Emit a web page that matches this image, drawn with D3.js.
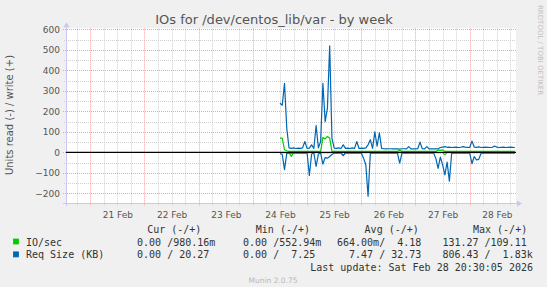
<!DOCTYPE html>
<html lang="en">
<head>
<meta charset="utf-8">
<title>IOs for /dev/centos_lib/var - by week</title>
<script src="https://cdn.jsdelivr.net/npm/d3@7"></script>
<style>
  html, body { margin: 0; padding: 0; background: #f0f0f0; }
  svg { display: block; }
  .mono { font-family: "DejaVu Sans Mono", monospace; font-size: 10px; fill: #333; white-space: pre; }
  .sans { font-family: "DejaVu Sans", sans-serif; }
</style>
</head>
<body>
<svg id="chart" width="547" height="287"></svg>
<script>
// hourly samples starting 24 Feb 12:00
var ioRead = [
  -1, -1, -1, -1, -1, -19, -1, -1, -1, -1,
  -1, -1, -1, -1, -1, -1, -1, -1, -1, -1,
  -1, -1, -1, -1, -1, -1, -1, -1, -15, -1,
  -1, -1, -1, -1, -1, -1, -1, -1, -1, -1,
  -1, -1, -1, -1, -1, -1, -1, -1, -1, -1,
  -1, -1, -1, -1, -1, -1, -1, -1, -1, -1,
  -1, -1, -1, -1, -1, -1, -1, -1, -1, -1,
  -1, -1, -1, -11, -1, -1, -1, -1, -1, -1,
  -1, -1, -1, -1, -1, -1, -1, -1, -1, -1,
  -1, -1, -1, -1, -1, -1, -1, -1, -1, -1,
  -1, -1, -1, -1, -1
];
var ioWrite = [
  70, 70, 13, 8, 5, 5, 5, 5, 5, 5,
  5, 5, 5, 5, 5, 5, 5, 5, 5, 73,
  66, 78, 70, 5, 5, 5, 5, 5, 5, 5,
  5, 5, 5, 5, 5, 5, 5, 5, 5, 5,
  5, 5, 5, 5, 5, 5, 5, 5, 5, 5,
  5, 5, 5, 10, 5, 5, 5, 5, 5, 5,
  5, 5, 5, 5, 5, 5, 5, 5, 5, 5,
  12, 10, 12, 5, 5, 5, 5, 5, 5, 5,
  5, 5, 5, 5, 5, 5, 5, 5, 5, 5,
  5, 5, 5, 5, 5, 5, 5, 5, 5, 5,
  5, 5, 5, 5, 5
];
var reqRead = [
  -5, -10, -84, -5, -3, -3, -3, -3, -3, -3,
  -3, -3, -3, -112, -8, -3, -68, -8, -3, -57,
  -25, -28, -20, -10, -3, -3, -3, -3, -15, -3,
  -3, -3, -3, -3, -3, -3, -3, -28, -60, -214,
  -5, -3, -3, -3, -3, -3, -3, -3, -3, -3,
  -3, -3, -3, -52, -3, -3, -3, -3, -3, -3,
  -3, -3, -3, -3, -3, -3, -3, -3, -3, -29,
  -78, -23, -60, -110, -47, -140, -5, -3, -3, -3,
  -3, -3, -3, -3, -3, -55, -20, -36, -34, -5,
  -3, -3, -3, -3, -3, -3, -3, -3, -3, -3,
  -3, -3, -3, -3, -3
];
var reqWrite = [
  240, 230, 337, 118, 22, 20, 22, 19, 21, 20,
  22, 53, 20, 21, 37, 20, 131, 22, 53, 337,
  150, 216, 520, 70, 21, 20, 22, 19, 37, 20,
  21, 19, 22, 20, 53, 19, 21, 20, 22, 37,
  62, 20, 100, 30, 95, 20, 18, 17, 18, 18,
  17, 18, 17, 16, 18, 18, 17, 28, 17, 18,
  17, 18, 50, 18, 17, 28, 17, 18, 17, 17,
  18, 24, 26, 28, 25, 26, 24, 25, 26, 24,
  25, 28, 26, 25, 24, 55, 26, 25, 27, 24,
  25, 26, 25, 24, 25, 31, 26, 24, 25, 26,
  24, 25, 26, 25, 24
];

var yTicks = [-200, -100, 0, 100, 200, 300, 400, 500, 600];
var dayTicks = ["21 Feb", "22 Feb", "23 Feb", "24 Feb", "25 Feb", "26 Feb", "27 Feb", "28 Feb"];
var legendNames = ["IO/sec", "Req Size (KB)"];
var legendColors = ["#00cc00", "#0066b3"];
var statHeads = ["Cur (-/+)", "Min (-/+)", "Avg (-/+)", "Max (-/+)"];
var statRows = [
  ["  0.00 /980.16m", "  0.00 /552.94m", "664.00m/  4.18", "131.27 /109.11"],
  ["  0.00 / 20.27", "  0.00 /  7.25", "  7.47 / 32.73", "806.43 /  1.83k"]
];
var lastUpdate = "Last update: Sat Feb 28 20:30:05 2026";

(function() {
var svg = d3.select("#chart");
var pL = 66, pR = 516, pT = 28.3, pB = 203.3;

var t0 = new Date(2026, 1, 20, 13, 15), t1 = new Date(2026, 1, 28, 20, 30);
var x = d3.scaleTime().domain([t0, t1]).range([pL, pR]);
var y = d3.scaleLinear().domain([-248, 605]).range([pB, pT]);

var start = new Date(2026, 1, 24, 12, 0);
var times = ioRead.map(function(d, i) { return d3.timeHour.offset(start, i); });

// plot area
svg.append("rect").attr("x", pL).attr("y", pT)
  .attr("width", pR - pL).attr("height", pB - pT).attr("fill", "#fff");

var g = svg.append("g");
var px = function(v) { return Math.round(v) + 0.5; };

// minor grid
var minorX = d3.timeHour.every(6).range(t0, t1).filter(function(d) { return d.getHours() != 0; });
g.selectAll(".vmin").data(minorX).enter().append("line")
  .attr("x1", function(d) { return px(x(d)); }).attr("x2", function(d) { return px(x(d)); })
  .attr("y1", pT).attr("y2", pB + 2)
  .attr("stroke", "#cfcfcf").attr("stroke-dasharray", "1,1");
var minorY = d3.range(-150, 651, 100);
g.selectAll(".hmin").data(minorY.filter(function(v) { return y(v) > pT; })).enter().append("line")
  .attr("x1", pL - 2).attr("x2", pR)
  .attr("y1", function(d) { return px(y(d)); }).attr("y2", function(d) { return px(y(d)); })
  .attr("stroke", "#cfcfcf").attr("stroke-dasharray", "1,1");

// major grid
var majorX = d3.timeDay.range(t0, t1);
g.selectAll(".vmaj").data(majorX).enter().append("line")
  .attr("x1", function(d) { return px(x(d)); }).attr("x2", function(d) { return px(x(d)); })
  .attr("y1", pT).attr("y2", pB + 3)
  .attr("stroke", "#f2a4a4").attr("stroke-dasharray", "1,1");
g.selectAll(".hmaj").data(yTicks).enter().append("line")
  .attr("x1", pL - 3).attr("x2", pR)
  .attr("y1", function(d) { return px(y(d)); }).attr("y2", function(d) { return px(y(d)); })
  .attr("stroke", "#f2a4a4").attr("stroke-dasharray", "1,1");

// axes lines with arrows
svg.append("line").attr("x1", pL - 3).attr("x2", pR + 2).attr("y1", px(pB)).attr("y2", px(pB))
  .attr("stroke", "#c8c8f0");
svg.append("line").attr("x1", px(pL)).attr("x2", px(pL)).attr("y1", pB + 3).attr("y2", pT - 3)
  .attr("stroke", "#c8c8f0");
svg.append("path").attr("d", "M" + (pR + 1) + "," + (px(pB) - 3) + "L" + (pR + 6) + "," + px(pB) + "L" + (pR + 1) + "," + (px(pB) + 3) + "Z")
  .attr("fill", "#c8c8f0");
svg.append("path").attr("d", "M" + (px(pL) - 3) + "," + (pT - 1) + "L" + px(pL) + "," + (pT - 6) + "L" + (px(pL) + 3) + "," + (pT - 1) + "Z")
  .attr("fill", "#c8c8f0");

// y axis labels
var yAxis = d3.axisLeft(y).tickValues(yTicks).tickSize(0).tickPadding(6).tickFormat(d3.format("d"));
var ya = svg.append("g").attr("transform", "translate(" + pL + ",0)").call(yAxis);
ya.select(".domain").remove();
ya.selectAll("text").attr("class", "sans").attr("font-size", 9).attr("fill", "#555");

// x axis labels at noon
var noons = dayTicks.map(function(d, i) { return new Date(2026, 1, 21 + i, 12, 0); });
var xAxis = d3.axisBottom(x).tickValues(noons).tickSize(0).tickPadding(8)
  .tickFormat(function(d, i) { return dayTicks[i]; });
var xa = svg.append("g").attr("transform", "translate(0," + pB + ")").call(xAxis);
xa.select(".domain").remove();
xa.selectAll("text").attr("class", "sans").attr("font-size", 9).attr("fill", "#555");

// series
var line = function(vals) {
  return d3.line().x(function(d, i) { return x(times[i]); }).y(function(d) { return y(d); })(vals);
};
[[ioRead, legendColors[0]], [ioWrite, legendColors[0]], [reqRead, legendColors[1]], [reqWrite, legendColors[1]]]
  .forEach(function(s) {
    svg.append("path").attr("d", line(s[0])).attr("fill", "none")
      .attr("stroke", s[1]).attr("stroke-width", 1.2).attr("stroke-linejoin", "round");
  });

// zero rule
svg.append("line").attr("x1", pL).attr("x2", pR).attr("y1", y(0)).attr("y2", y(0))
  .attr("stroke", "#000").attr("stroke-width", 1.2);

// title and labels
svg.append("text").attr("class", "sans").attr("x", 274).attr("y", 24).attr("text-anchor", "middle")
  .attr("font-size", 13).attr("fill", "#555").text("IOs for /dev/centos_lib/var - by week");
svg.append("text").attr("class", "sans").attr("transform", "translate(13,115) rotate(-90)")
  .attr("text-anchor", "middle").attr("font-size", 10).attr("fill", "#555").text("Units read (-) / write (+)");
svg.append("text").attr("class", "sans").attr("transform", "translate(538,5) rotate(90)")
  .attr("font-size", 7).attr("fill", "#c0c0c0").text("RRDTOOL / TOBI OETIKER");

// legend
var colX = [125, 231, 337, 442.4], headX = [147.2, 255.8, 364.6, 473];
statHeads.forEach(function(h, i) {
  svg.append("text").attr("class", "mono").attr("x", headX[i]).attr("y", 232.5).text(h);
});
legendNames.forEach(function(n, r) {
  var yy = 245.5 + r * 12.9;
  svg.append("rect").attr("x", 13.5).attr("y", yy - 6.5).attr("width", 5).attr("height", 5)
    .attr("fill", legendColors[r]).attr("stroke", legendColors[r]).attr("stroke-width", 0.8);
  svg.append("text").attr("class", "mono").attr("x", 26).attr("y", yy).text(n);
  statRows[r].forEach(function(v, i) {
    svg.append("text").attr("class", "mono").attr("x", colX[i]).attr("y", yy).text(v);
  });
});
svg.append("text").attr("class", "mono").attr("x", 533).attr("y", 271).attr("text-anchor", "end").text(lastUpdate);
svg.append("text").attr("class", "sans").attr("x", 273).attr("y", 283).attr("text-anchor", "middle")
  .attr("font-size", 7.5).attr("fill", "#b8b8b8").text("Munin 2.0.75");
})();
</script>
</body>
</html>
